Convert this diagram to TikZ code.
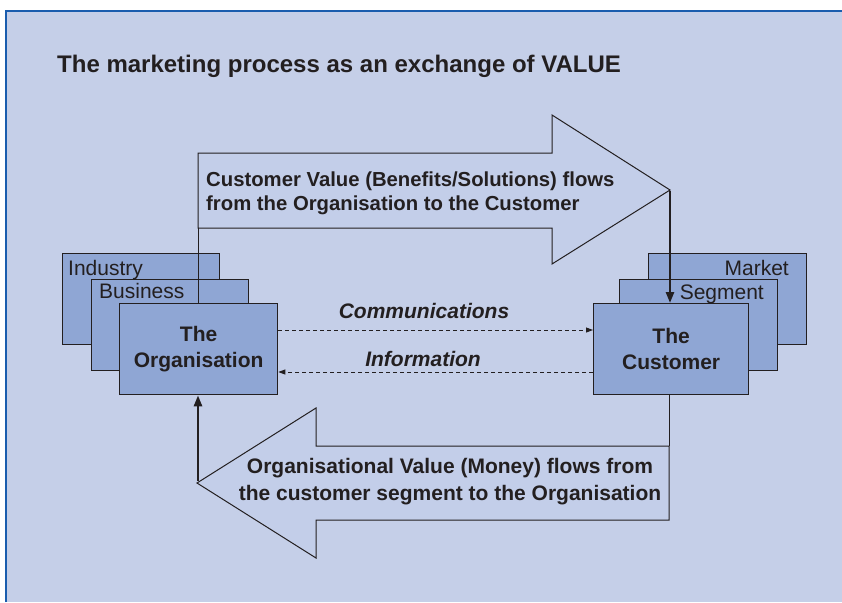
\documentclass[tikz,border=0pt]{standalone}
\usepackage{fontspec}
\setmainfont{Liberation Sans}
\usetikzlibrary{arrows.meta}
\definecolor{bg}{HTML}{C5CFE8}
\definecolor{frame}{HTML}{1A5DAE}
\definecolor{boxfill}{HTML}{8FA6D4}
\definecolor{ink}{HTML}{231F20}
\definecolor{arrowfill}{HTML}{C3CEE9}
\tikzset{
  layer/.style={draw=ink, fill=boxfill, line width=1.3pt, minimum width=157pt, minimum height=91pt, inner sep=0pt, anchor=north west},
  layerlabel/.style={text=ink, font=\fontsize{21}{24}\selectfont, inner sep=0pt},
  mainlabel/.style={text=ink, font=\fontsize{21}{26}\selectfont\bfseries, align=center},
  bigarrow/.style={draw=ink, fill=arrowfill, line width=1pt, line join=miter},
  flowtext/.style={text=ink, inner sep=0pt},
  thickflow/.style={draw=ink, line width=2.5pt, -{Triangle[length=11pt,width=8pt]}},
  dashflow/.style={draw=ink, line width=0.9pt, dash pattern=on 4pt off 3pt, -{Triangle[length=7pt,width=5pt]}},
  msglabel/.style={text=ink, font=\fontsize{21}{24}\selectfont\bfseries\itshape, inner sep=0pt}
}
\begin{document}
\begin{tikzpicture}[x=1pt,y=-1pt]
\useasboundingbox (0,0) rectangle (842,602);
\fill[white] (0,0) rectangle (842,602);
\fill[bg] (6,11) rectangle (842,602);
\draw[frame, line width=2.5pt] (6,602) -- (6,11) -- (842,11);

\node[text=ink, anchor=base west, inner sep=0pt, font=\fontsize{24}{28}\selectfont\bfseries] (title) at (57,72) {The marketing process as an exchange of VALUE};

% top arrow
\draw[bigarrow] (198,153) -- (552,153) -- (552,115) -- (670,190) -- (552,264) -- (552,228) -- (198,228) -- cycle;
\coordinate (topleft) at (198,228);
\coordinate (toptip) at (670,191);
\node[flowtext, anchor=base west, align=left, font=\fontsize{20.3}{24}\selectfont\bfseries] (toptext) at (206,210) {Customer Value (Benefits/Solutions) flows\\from the Organisation to the Customer};

% bottom arrow
\draw[bigarrow] (669,446) -- (316,446) -- (316,408) -- (197,483) -- (316,558) -- (316,520) -- (669,520) -- cycle;
\coordinate (botright) at (669,446);
\coordinate (bottip) at (198,481);
\node[flowtext, anchor=base, align=center, font=\fontsize{21}{27}\selectfont\bfseries] (bottext) at (450,500) {Organisational Value (Money) flows from\\the customer segment to the Organisation};

% left stack
\node[layer] (ind) at (62,253) {};
\node[layerlabel, anchor=base west] (indl) at (68,275) {Industry};
\node[layer] (bus) at (91,279) {};
\node[layerlabel, anchor=base west] (busl) at (99,298) {Business};
\node[layer, minimum width=158pt] (org) at (119,303) {};
\node[mainlabel] (orgl) at (org.center) {The\\Organisation};

% right stack
\node[layer, minimum width=158pt] (mkt) at (648,253) {};
\node[layerlabel, anchor=base east] (mktl) at (789,275) {Market};
\node[layer, minimum width=158pt] (seg) at (619,279) {};
\node[layerlabel, anchor=base east] (segl) at (764,299) {Segment};
\node[layer, minimum width=155pt] (cust) at (593,303) {};
\node[mainlabel] (custl) at (cust.center) {The\\Customer};

% connectors
\draw[draw=ink, line width=1pt] (topleft) -- (org.north -| topleft);
\draw[thickflow] (toptip) -- (cust.north -| toptip);
\draw[draw=ink, line width=1pt] (botright) -- (cust.south -| botright);
\draw[thickflow] (bottip) -- (org.south -| bottip);

\coordinate (cy) at (0,330);
\coordinate (iy) at (0,372);
\draw[dashflow] (org.east |- cy) -- (cust.west |- cy);
\draw[dashflow] (cust.west |- iy) -- (org.east |- iy);
\node[msglabel, anchor=base] (comm) at (424,318) {Communications};
\node[msglabel, anchor=base] (info) at (423,366) {Information};
\end{tikzpicture}
\end{document}
